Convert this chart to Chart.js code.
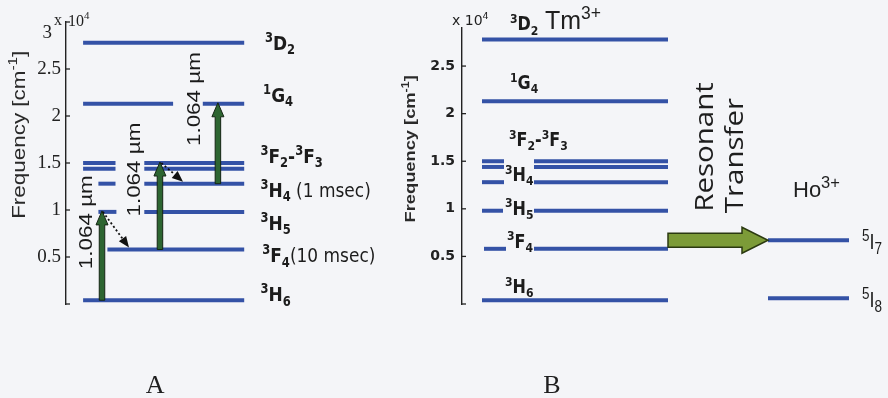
<!DOCTYPE html>
<html>
<head>
<meta charset="utf-8">
<script src="https://cdn.jsdelivr.net/npm/chart.js@4/dist/chart.umd.min.js"></script>
<style>
  html, body { margin: 0; padding: 0; background: #f4f5f8; }
  #wrap { position: relative; width: 888px; height: 398px; overflow: hidden; }
  canvas { position: absolute; top: 0; }
  #cA { left: 0; }
  #cB { left: 380px; }
</style>
</head>
<body>
<div id="wrap">
  <canvas id="cA" width="420" height="398"></canvas>
  <canvas id="cB" width="508" height="398"></canvas>
</div>
<script>
// ---- Energy levels (units of 10^4 cm^-1) ----
const tmStates = ['3D2', '1G4', '3F2', '3F3', '3H4', '3H5', '3F4', '3H6'];
const tmEnergy = [2.78, 2.13, 1.50, 1.44, 1.28, 0.98, 0.58, 0.04];
const hoStates = ['5I7', '5I8'];
const hoEnergy = [0.67, 0.06];

// ---- Axis ticks ----
const ticksA = [0, 0.5, 1, 1.5, 2, 2.5, 3];
const tickLabelsA = ['', '0.5', '1', '1.5', '2', '2.5', '3'];
const ticksB = [0, 0.5, 1, 1.5, 2, 2.5];
const tickLabelsB = ['', '0.5', '1', '1.5', '2', '2.5'];

const pumpText = '1.064 µm';

// ---- Styling ----
const LEVEL_BLUE = '#3452a6';
const PUMP_GREEN = '#2d6531';
const TRANSFER_GREEN = '#7c9b38';
const INK = '#1f1f1f';
const STRETCH = 1.18;

const eTm = s => tmEnergy[tmStates.indexOf(s)];
const eHo = s => hoEnergy[hoStates.indexOf(s)];

// Horizontal extents of each level line (x-axis units of each panel)
const segA = {
  '3D2': [[0.95, 9.9]],
  '1G4': [[0.95, 5.95], [7.6, 9.9]],
  '3F2': [[0.95, 2.75], [4.35, 9.9]],
  '3F3': [[0.95, 2.75], [4.35, 9.9]],
  '3H4': [[1.8, 2.75], [4.35, 9.9]],
  '3H5': [[1.8, 2.8], [4.35, 9.9]],
  '3F4': [[2.3, 9.9]],
  '3H6': [[0.95, 9.9]]
};
const segB = {
  '3D2': [[1.0, 10.3]],
  '1G4': [[1.0, 10.3]],
  '3F2': [[1.0, 2.1], [3.6, 10.3]],
  '3F3': [[1.0, 2.1], [3.6, 10.3]],
  '3H4': [[1.0, 2.1], [3.6, 10.3]],
  '3H5': [[1.0, 2.05], [3.6, 10.3]],
  '3F4': [[1.1, 2.2], [3.6, 10.3]],
  '3H6': [[1.0, 10.3]]
};
const segHo = {
  '5I7': [[15.3, 19.35]],
  '5I8': [[15.3, 19.35]]
};

// State labels: markup ^ = superscript, _ = subscript, | = switch to plain weight
const labelsA = [
  { s: '3D2', t: '^3D_2', u: 11.05, dy: 7 },
  { s: '1G4', t: '^1G_4', u: 10.95, dy: -2 },
  { s: '3F2', t: '^3F_2-^3F_3', u: 10.8, dy: 0 },
  { s: '3H4', t: '^3H_4| (1 msec)', u: 10.8, dy: 13 },
  { s: '3H5', t: '^3H_5', u: 10.8, dy: 18 },
  { s: '3F4', t: '^3F_4|(10 msec)', u: 10.9, dy: 13 },
  { s: '3H6', t: '^3H_6', u: 10.8, dy: 1 }
];
const labelsB = [
  { s: '3D2', t: '^3D_2', u: 2.4, dy: -9 },
  { s: '1G4', t: '^1G_4', u: 2.4, dy: -12 },
  { s: '3F2', t: '^3F_2-^3F_3', u: 2.35, dy: -15 },
  { s: '3H4', t: '^3H_4', u: 2.15, dy: -1 },
  { s: '3H5', t: '^3H_5', u: 2.15, dy: 4 },
  { s: '3F4', t: '^3F_4', u: 2.25, dy: -1 },
  { s: '3H6', t: '^3H_6', u: 2.15, dy: -7 }
];
const labelsHo = [
  { s: '5I7', t: '^5I_7', u: 20.0, dy: 9 },
  { s: '5I8', t: '^5I_8', u: 20.0, dy: 9 }
];

// Pump (ground/excited state absorption) and non-radiative relaxation
const pumps = [
  { from: '3H6', to: '3H5', u: 2.0, label: { u: 1.44, e: 0.87 } },
  { from: '3F4', to: '3F2', u: 5.22, label: { u: 4.1, e: 1.43 } },
  { from: '3H4', to: '1G4', u: 8.44, label: { u: 7.45, e: 2.18 } }
];
const relax = [
  { from: '3H5', u0: 2.05, to: '3F4', u1: 3.5 },
  { from: '3F2', u0: 5.3, to: '3H4', u1: 6.5 }
];

// ---- Rich text helpers ----
function richParts(s) {
  const out = []; let buf = '', plain = false, i = 0;
  const flush = () => { if (buf) { out.push({ t: buf, k: 0, plain }); buf = ''; } };
  while (i < s.length) {
    const c = s[i];
    if (c === '^' || c === '_') {
      flush();
      let t;
      if (s[i + 1] === '{') { const j = s.indexOf('}', i); t = s.slice(i + 2, j); i = j + 1; }
      else { t = s[i + 1]; i += 2; }
      out.push({ t, k: c === '^' ? 1 : -1, plain });
    } else if (c === '|') { flush(); plain = true; i++; }
    else { buf += c; i++; }
  }
  flush();
  return out;
}
function fontFor(p, o) {
  const size = p.k ? o.size * (o.script || 0.68) : o.size;
  const weight = p.plain ? 'normal' : (o.weight || 'normal');
  return `${weight} ${size}px ${o.family}`;
}
function drawRich(ctx, s, x, y, o) {
  const parts = richParts(s);
  ctx.save();
  ctx.translate(x, y);
  if (o.rot) ctx.rotate(o.rot);
  ctx.scale(o.sx || 1, o.sy || 1);
  ctx.fillStyle = o.color || INK;
  ctx.textBaseline = 'alphabetic';
  ctx.textAlign = 'left';
  let w = 0;
  parts.forEach(p => { ctx.font = fontFor(p, o); w += ctx.measureText(p.t).width; });
  let cx = o.align === 'center' ? -w / 2 : o.align === 'right' ? -w : 0;
  for (const p of parts) {
    ctx.font = fontFor(p, o);
    const dy = p.k > 0 ? -o.size * (o.rise || 0.4) : p.k < 0 ? o.size * (o.drop || 0.22) : 0;
    ctx.fillText(p.t, cx, dy);
    cx += ctx.measureText(p.t).width;
  }
  ctx.restore();
}

// ---- Arrow helpers ----
function blockArrowUp(ctx, x, y0, y1, shaft, headW, headL, fill, stroke) {
  ctx.save();
  ctx.beginPath();
  ctx.moveTo(x - shaft / 2, y0);
  ctx.lineTo(x - shaft / 2, y1 + headL);
  ctx.lineTo(x - headW / 2, y1 + headL);
  ctx.lineTo(x, y1);
  ctx.lineTo(x + headW / 2, y1 + headL);
  ctx.lineTo(x + shaft / 2, y1 + headL);
  ctx.lineTo(x + shaft / 2, y0);
  ctx.closePath();
  ctx.fillStyle = fill; ctx.fill();
  ctx.lineWidth = 1; ctx.strokeStyle = stroke; ctx.stroke();
  ctx.restore();
}
function blockArrowRight(ctx, x0, x1, y, shaft, headW, headL, fill, stroke) {
  ctx.save();
  ctx.beginPath();
  ctx.moveTo(x0, y - shaft / 2);
  ctx.lineTo(x1 - headL, y - shaft / 2);
  ctx.lineTo(x1 - headL, y - headW / 2);
  ctx.lineTo(x1, y);
  ctx.lineTo(x1 - headL, y + headW / 2);
  ctx.lineTo(x1 - headL, y + shaft / 2);
  ctx.lineTo(x0, y + shaft / 2);
  ctx.closePath();
  ctx.fillStyle = fill; ctx.fill();
  ctx.lineWidth = 1.5; ctx.strokeStyle = stroke; ctx.stroke();
  ctx.restore();
}
function dottedArrow(ctx, x0, y0, x1, y1) {
  const ang = Math.atan2(y1 - y0, x1 - x0);
  const hl = 11, hw = 9;
  const bx = x1 - hl * Math.cos(ang), by = y1 - hl * Math.sin(ang);
  ctx.save();
  ctx.strokeStyle = '#111'; ctx.lineWidth = 1.8; ctx.setLineDash([2, 2.4]);
  ctx.beginPath(); ctx.moveTo(x0, y0); ctx.lineTo(bx, by); ctx.stroke();
  ctx.setLineDash([]);
  ctx.beginPath();
  ctx.moveTo(x1, y1);
  ctx.lineTo(bx + hw / 2 * Math.sin(ang), by - hw / 2 * Math.cos(ang));
  ctx.lineTo(bx - hw / 2 * Math.sin(ang), by + hw / 2 * Math.cos(ang));
  ctx.closePath();
  ctx.fillStyle = '#111'; ctx.fill();
  ctx.restore();
}
function inwardTicks(ctx, yScale, values) {
  const ax = yScale.right;
  ctx.save();
  ctx.strokeStyle = '#222'; ctx.lineWidth = 1.3;
  values.forEach(v => {
    const py = yScale.getPixelForValue(v);
    ctx.beginPath(); ctx.moveTo(ax, py); ctx.lineTo(ax + 4, py); ctx.stroke();
  });
  ctx.restore();
}

// ---- Datasets ----
function levelDatasets(seg, energyOf) {
  const ds = [];
  Object.keys(seg).forEach(s => {
    seg[s].forEach(([a, b]) => {
      ds.push({
        data: [{ x: a, y: energyOf(s) }, { x: b, y: energyOf(s) }],
        showLine: true, borderColor: LEVEL_BLUE, borderWidth: 4,
        pointRadius: 0, borderCapStyle: 'butt', clip: false
      });
    });
  });
  return ds;
}

// ---- Panel A annotations ----
const panelAPlugin = {
  id: 'panelA',
  afterDraw(chart) {
    const { ctx, scales: { x, y } } = chart;
    const X = u => x.getPixelForValue(u), Y = e => y.getPixelForValue(e);
    inwardTicks(ctx, y, ticksA);
    const ax = y.right;
    const top = ticksA[ticksA.length - 1];
    // top tick label sits a little below its tick, under the exponent
    ctx.save();
    ctx.fillStyle = '#222'; ctx.font = '19px "Liberation Serif"';
    ctx.textAlign = 'right'; ctx.textBaseline = 'middle';
    ctx.fillText(tickLabelsA[tickLabelsA.length - 1], ax - 14, Y(top) + 11);
    ctx.textAlign = 'left'; ctx.textBaseline = 'alphabetic'; ctx.font = '16px "Liberation Serif"';
    ctx.fillStyle = INK;
    ctx.fillText('x', ax - 12, Y(top) + 3);
    ctx.restore();
    drawRich(ctx, '10^4', ax + 2, Y(top) + 4, { family: '"Liberation Serif"', size: 16, rise: 0.45 });
    // axis title
    drawRich(ctx, 'Frequency [cm^{-1}]', ax - 41, Y(1.8), {
      family: '"Liberation Sans"', size: 19, rot: -Math.PI / 2, sx: STRETCH, align: 'center', color: '#2a2a2a'
    });
    // pump arrows
    pumps.forEach(p => {
      blockArrowUp(ctx, X(p.u), Y(eTm(p.from)), Y(eTm(p.to)) - 1, 5.5, 12, 14, PUMP_GREEN, '#142414');
      drawRich(ctx, pumpText, X(p.label.u), Y(p.label.e), {
        family: '"Liberation Sans"', size: 19, rot: -Math.PI / 2, sx: STRETCH, align: 'center', color: '#1a1a1a'
      });
    });
    // non-radiative relaxation
    relax.forEach(r => dottedArrow(ctx, X(r.u0), Y(eTm(r.from)), X(r.u1), Y(eTm(r.to)) - 2));
    // state labels
    labelsA.forEach(l => drawRich(ctx, l.t, X(l.u), Y(eTm(l.s)) + l.dy, {
      family: '"DejaVu Sans"', size: 17, weight: 'bold', sy: STRETCH, color: '#1c1c1c'
    }));
    // panel letter
    ctx.save();
    ctx.fillStyle = INK; ctx.font = '26px "Liberation Serif"'; ctx.textAlign = 'center';
    ctx.fillText('A', X(4.95), Y(0) + 89);
    ctx.restore();
  }
};

// ---- Panel B annotations ----
const panelBPlugin = {
  id: 'panelB',
  afterDraw(chart) {
    const { ctx, scales: { x, y } } = chart;
    const X = u => x.getPixelForValue(u), Y = e => y.getPixelForValue(e);
    inwardTicks(ctx, y, ticksB);
    const ax = y.right;
    drawRich(ctx, 'x 10^4', ax - 10, 25, { family: '"DejaVu Sans"', size: 14, rise: 0.45 });
    drawRich(ctx, 'Frequency [cm^{-1}]', ax - 47, Y(1.63), {
      family: '"Liberation Sans"', size: 15.5, rot: -Math.PI / 2, sx: STRETCH, align: 'center', weight: 'bold', color: '#2a2a2a'
    });
    // species names
    drawRich(ctx, 'Tm^{3+}', X(4.15), Y(eTm('3D2')) - 10, { family: '"Liberation Sans"', size: 25, script: 0.7, rise: 0.42 });
    drawRich(ctx, 'Ho^{3+}', X(16.55), Y(eHo('5I7')) - 43, { family: '"Liberation Sans"', size: 22, script: 0.75, rise: 0.42 });
    // state labels
    labelsB.forEach(l => drawRich(ctx, l.t, X(l.u), Y(eTm(l.s)) + l.dy, {
      family: '"DejaVu Sans"', size: 16, weight: 'bold', sy: STRETCH, color: '#1c1c1c'
    }));
    labelsHo.forEach(l => drawRich(ctx, l.t, X(l.u), Y(eHo(l.s)) + l.dy, {
      family: '"Liberation Sans"', size: 18, script: 0.75, sy: STRETCH, color: '#1c1c1c'
    }));
    // energy transfer
    blockArrowRight(ctx, X(10.3), X(15.3), Y(eHo('5I7')), 14, 26, 26, TRANSFER_GREEN, '#2a3910');
    drawRich(ctx, 'Resonant', X(12.55), Y(1.65), { family: '"Open Sans"', size: 25, rot: -Math.PI / 2, sx: STRETCH, align: 'center', color: '#1e1e1e' });
    drawRich(ctx, 'Transfer', X(14.05), Y(1.56), { family: '"Open Sans"', size: 25, rot: -Math.PI / 2, sx: STRETCH, align: 'center', color: '#1e1e1e' });
    // panel letter
    ctx.save();
    ctx.fillStyle = INK; ctx.font = '26px "Liberation Serif"'; ctx.textAlign = 'center';
    ctx.fillText('B', X(4.5), Y(0) + 89);
    ctx.restore();
  }
};

function yAxis(min, max, ticks, labels, width, font, pad, hideTop) {
  return {
    type: 'linear', min, max,
    afterFit(s) { s.width = width; },
    afterBuildTicks(s) { s.ticks = ticks.map(v => ({ value: v })); },
    ticks: {
      callback: (v, i) => (hideTop && i === labels.length - 1) ? '' : labels[i],
      font, color: '#222', padding: pad, autoSkip: false
    },
    grid: { display: false, drawTicks: false },
    border: { display: true, color: '#222', width: 1.4 }
  };
}
const common = {
  responsive: false, animation: false, events: [],
  plugins: { legend: { display: false }, tooltip: { enabled: false } }
};

new Chart(document.getElementById('cA'), {
  type: 'scatter',
  data: { datasets: levelDatasets(segA, eTm) },
  options: Object.assign({}, common, {
    layout: { padding: { left: 0, right: 174, top: 22, bottom: 94 } },
    scales: {
      x: { type: 'linear', min: 0, max: 10, display: false },
      y: yAxis(0, 3, ticksA, tickLabelsA, 66, { family: '"Liberation Serif"', size: 19 }, 5, true)
    }
  }),
  plugins: [panelAPlugin]
});

new Chart(document.getElementById('cB'), {
  type: 'scatter',
  data: { datasets: levelDatasets(segB, eTm).concat(levelDatasets(segHo, eHo)) },
  options: Object.assign({}, common, {
    layout: { padding: { left: 0, right: 26, top: 28, bottom: 94 } },
    scales: {
      x: { type: 'linear', min: 0, max: 20, display: false },
      y: yAxis(0, 2.9, ticksB, tickLabelsB, 82, { family: '"DejaVu Sans"', size: 14, weight: 'bold' }, 7, false)
    }
  }),
  plugins: [panelBPlugin]
});
</script>
</body>
</html>
